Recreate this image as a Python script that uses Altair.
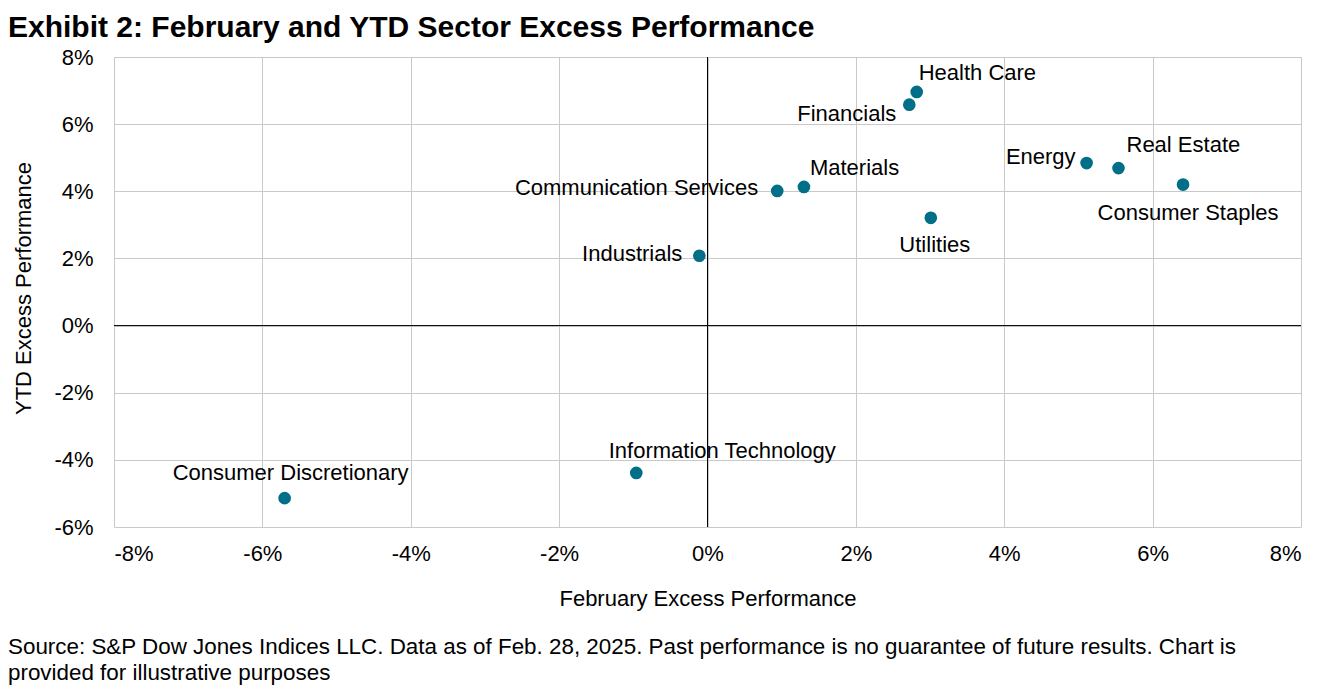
import altair as alt
import pandas as pd

# ---- data ----
sectors = [
    "Health Care", "Financials", "Energy", "Real Estate", "Consumer Staples",
    "Utilities", "Materials", "Communication Services", "Industrials",
    "Information Technology", "Consumer Discretionary",
]
feb_excess = [2.82, 2.72, 5.11, 5.54, 6.41, 3.01, 1.30, 0.94, -0.11, -0.96, -5.70]
ytd_excess = [6.96, 6.58, 4.84, 4.69, 4.20, 3.21, 4.13, 4.01, 2.08, -4.39, -5.14]
x_ticks = [-8, -6, -4, -2, 0, 2, 4, 6, 8]
y_ticks = [-6, -4, -2, 0, 2, 4, 6, 8]

title_text = "Exhibit 2: February and YTD Sector Excess Performance"
x_title = "February Excess Performance"
y_title = "YTD Excess Performance"
source_text = (
    "Source: S&P Dow Jones Indices LLC. Data as of Feb. 28, 2025. Past performance is no guarantee "
    "of future results. Chart is\nprovided for illustrative purposes"
)

df = pd.DataFrame({"sector": sectors, "feb": feb_excess, "ytd": ytd_excess})
zero_df = pd.DataFrame({"z": [0]})
note_df = pd.DataFrame({"note": [source_text]})

FONT = "Liberation Sans"
FS = 22
POINT_COLOR = "#006f87"
label_expr = "(datum.value < 0 ? '-' : '') + abs(datum.value) + '%'"

x_enc = alt.X(
    "feb:Q",
    title=x_title,
    scale=alt.Scale(domain=[-8, 8], nice=False, zero=False),
    axis=alt.Axis(values=x_ticks, labelExpr=label_expr, labelPadding=16, titlePadding=24),
)
y_enc = alt.Y(
    "ytd:Q",
    title=y_title,
    scale=alt.Scale(domain=[-6, 8], nice=False, zero=False),
    axis=alt.Axis(values=y_ticks, labelExpr=label_expr, labelPadding=21,
                  titlePadding=18, titleY=231),
)

base = alt.Chart(df)

vrule = alt.Chart(zero_df).mark_rule(color="black", strokeWidth=1).encode(x=alt.datum(0))
hrule = alt.Chart(zero_df).mark_rule(color="black", strokeWidth=1).encode(y=alt.datum(0))

points = base.mark_circle(size=160, color=POINT_COLOR, opacity=1).encode(
    x=x_enc, y=y_enc, tooltip=["sector", "feb", "ytd"]
)

# label placement (style only): align, dx, dy
placements = {
    "Health Care": ("left", 2, -12),
    "Financials": ("right", -13, 16),
    "Energy": ("right", -11, 1),
    "Real Estate": ("left", 8, -16),
    "Consumer Staples": ("center", 5, 35),
    "Utilities": ("center", 4, 34),
    "Materials": ("left", 6, -12),
    "Communication Services": ("right", -19, 4),
    "Industrials": ("right", -17, 5),
    "Information Technology": ("center", 86, -15),
    "Consumer Discretionary": ("center", 6, -18),
}

label_layers = []
for name, (align, dx, dy) in placements.items():
    label_layers.append(
        base.transform_filter(alt.datum.sector == name)
        .mark_text(
            align=align, baseline="alphabetic", dx=dx, dy=dy,
            font=FONT, fontSize=FS, color="black",
        )
        .encode(x="feb:Q", y="ytd:Q", text="sector:N")
    )

note = alt.Chart(note_df).mark_text(
    align="left", baseline="alphabetic", font=FONT, fontSize=22.4,
    color="black", lineBreak="\n", lineHeight=26,
).encode(x=alt.value(-106), y=alt.value(597), text="note:N")

chart = (
    alt.layer(vrule, hrule, points, *label_layers, note)
    .properties(
        width=1187,
        height=470,
        autosize=alt.AutoSizeParams(type="none"),
        padding={"left": 106, "top": 49, "right": 32, "bottom": 159},
        title=alt.TitleParams(
            text=title_text, anchor="start", frame="group", dx=-106, offset=-21,
            font=FONT, fontSize=30, fontWeight="bold", color="black",
            baseline="alphabetic",
        ),
    )
    .configure_view(stroke=None)
    .configure_axis(
        domain=False, ticks=False, grid=True, gridColor="#c9c9c9", gridWidth=1,
        labelFont=FONT, labelFontSize=FS, labelColor="black",
        titleFont=FONT, titleFontSize=FS, titleFontWeight="normal", titleColor="black",
    )
)

chart.save("out.html", embed_options={"renderer": "svg", "actions": False})
